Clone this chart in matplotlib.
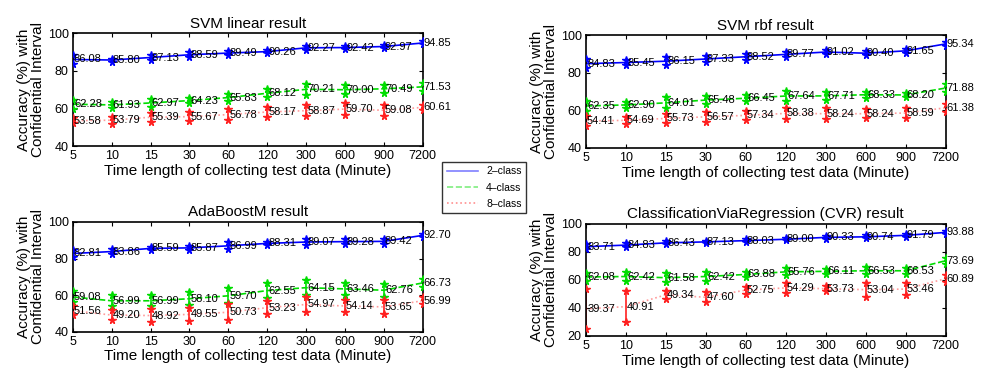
import numpy as np
import matplotlib
matplotlib.use("Agg")
import matplotlib.pyplot as plt
from matplotlib.lines import Line2D

plt.rcParams["font.family"] = ["Liberation Sans", "DejaVu Sans"]

TIMES = ["5", "10", "15", "30", "60", "120", "300", "600", "900", "7200"]
CLASSES = ["2\u2013class", "4\u2013class", "8\u2013class"]

TITLES = ["SVM linear result", "SVM rbf result",
          "AdaBoostM result", "ClassificationViaRegression (CVR) result"]

# mean accuracy, per panel: 2-class, 4-class, 8-class
svm_lin_2 = [86.08, 85.80, 87.13, 88.59, 89.49, 90.26, 92.27, 92.42, 92.97, 94.85]
svm_lin_4 = [62.28, 61.93, 62.97, 64.23, 65.83, 68.12, 70.21, 70.00, 70.49, 71.53]
svm_lin_8 = [53.58, 53.79, 55.39, 55.67, 56.78, 58.17, 58.87, 59.70, 59.08, 60.61]

svm_rbf_2 = [84.83, 85.45, 86.15, 87.33, 88.52, 89.77, 91.02, 90.40, 91.65, 95.34]
svm_rbf_4 = [62.35, 62.90, 64.01, 65.48, 66.45, 67.64, 67.71, 68.33, 68.20, 71.88]
svm_rbf_8 = [54.41, 54.69, 55.73, 56.57, 57.34, 58.38, 58.24, 58.24, 58.59, 61.38]

ada_2 = [82.81, 83.86, 85.59, 85.87, 86.99, 88.31, 89.07, 89.28, 89.42, 92.70]
ada_4 = [59.08, 56.99, 56.99, 58.10, 59.70, 62.55, 64.15, 63.46, 62.76, 66.73]
ada_8 = [51.56, 49.20, 48.92, 49.55, 50.73, 53.23, 54.97, 54.14, 53.65, 56.99]

cvr_2 = [83.71, 84.83, 86.43, 87.13, 88.03, 89.00, 90.33, 90.74, 91.79, 93.88]
cvr_4 = [62.08, 62.42, 61.58, 62.42, 63.88, 65.76, 66.11, 66.53, 66.53, 73.69]
cvr_8 = [39.37, 40.91, 49.34, 47.60, 52.75, 54.29, 53.73, 53.04, 53.46, 60.89]

# confidence interval half widths (estimated)
svm_lin_2e = [2.5, 0.8, 1.2, 1.3, 1.0, 0.8, 1.0, 0.8, 0.8, 0.8]
svm_lin_4e = [2.5, 1.5, 2.0, 1.5, 2.0, 2.0, 3.0, 2.5, 2.0, 2.0]
svm_lin_8e = [1.5, 1.8, 2.5, 2.5, 3.0, 2.5, 3.0, 3.0, 3.0, 1.5]

svm_rbf_2e = [2.5, 1.5, 2.0, 1.5, 1.5, 1.5, 1.0, 1.0, 1.0, 1.0]
svm_rbf_4e = [2.5, 1.5, 3.0, 2.0, 1.5, 2.5, 2.0, 1.5, 1.0, 2.0]
svm_rbf_8e = [2.5, 2.0, 2.5, 2.5, 2.5, 3.0, 3.0, 2.5, 2.5, 2.0]

ada_2e = [2.0, 1.5, 1.0, 1.0, 2.0, 1.0, 1.5, 1.5, 1.5, 1.0]
ada_4e = [3.0, 3.0, 3.0, 3.5, 4.0, 4.0, 4.0, 3.5, 3.5, 2.0]
ada_8e = [2.5, 2.5, 3.5, 3.5, 4.5, 3.5, 4.0, 3.5, 4.0, 2.0]

cvr_2e = [2.0, 1.2, 1.0, 0.8, 1.0, 0.7, 1.0, 1.0, 1.0, 1.0]
cvr_4e = [3.0, 3.0, 3.0, 3.0, 2.0, 2.5, 2.0, 2.5, 2.0, 2.0]
cvr_8e = [14.4, 11.0, 3.0, 3.5, 2.5, 3.5, 2.0, 5.0, 4.0, 2.5]

panels = [
    ([svm_lin_2, svm_lin_4, svm_lin_8], [svm_lin_2e, svm_lin_4e, svm_lin_8e], (40, 100)),
    ([svm_rbf_2, svm_rbf_4, svm_rbf_8], [svm_rbf_2e, svm_rbf_4e, svm_rbf_8e], (40, 100)),
    ([ada_2, ada_4, ada_8], [ada_2e, ada_4e, ada_8e], (40, 100)),
    ([cvr_2, cvr_4, cvr_8], [cvr_2e, cvr_4e, cvr_8e], (20, 100)),
]

positions = [
    [0.074, 0.605, 0.356, 0.305],
    [0.596, 0.600, 0.366, 0.305],
    [0.074, 0.103, 0.356, 0.297],
    [0.596, 0.092, 0.366, 0.303],
]

line_colors = ["#0000ff", "#00dd00", "#ff2020"]
styles = ["-", "--", ":"]
line_alpha = [1.0, 1.0, 0.45]

fig = plt.figure(figsize=(9.83, 3.70), dpi=100)
x = np.arange(len(TIMES))

for (means, errs, ylim), pos, title in zip(panels, positions, TITLES):
    ax = fig.add_axes(pos)
    for k in range(3):
        m = np.array(means[k])
        e = np.array(errs[k])
        ax.plot(x, m, linestyle=styles[k], color=line_colors[k], lw=1.2,
                alpha=line_alpha[k], zorder=2)
        ax.vlines(x, m - e, m + e, color=line_colors[k], lw=1.2, zorder=2)
        for end in (m - e, m + e):
            ax.plot(x, end, "*", color=line_colors[k], ms=5.5, mew=1.0, zorder=3)
        for xi, v in zip(x, m):
            ax.text(xi + 0.03, v, f"{v:.2f}", fontsize=8, va="center", ha="left",
                    zorder=4)
    ax.set_xlim(0, 9)
    ax.set_ylim(*ylim)
    ax.set_yticks(np.arange(ylim[0], ylim[1] + 1, 20))
    ax.set_xticks(x)
    ax.set_xticklabels(TIMES)
    ax.tick_params(direction="in", top=True, right=True, labelsize=9, length=3, pad=3)
    for s in ax.spines.values():
        s.set_linewidth(1.2)
    ax.set_title(title, fontsize=11, pad=4)
    ax.set_xlabel("Time length of collecting test data (Minute)", fontsize=11, labelpad=1)
    ax.set_ylabel("Accuracy (%) with\nConfidential Interval", fontsize=11, labelpad=2,
                  linespacing=0.95)

handles = [Line2D([0], [0], color=line_colors[k], linestyle=styles[k], lw=1.2,
                  alpha=0.5) for k in range(3)]
leg = fig.legend(handles, CLASSES, loc="lower left",
                 bbox_to_anchor=(0.45, 0.424, 0.085, 0.157), mode="expand",
                 fontsize=7.5, frameon=True, fancybox=False, handlelength=3,
                 borderaxespad=0, labelspacing=0.6)
leg.get_frame().set_edgecolor("black")
leg.get_frame().set_linewidth(1.0)

fig.savefig("out.png", dpi=100)
